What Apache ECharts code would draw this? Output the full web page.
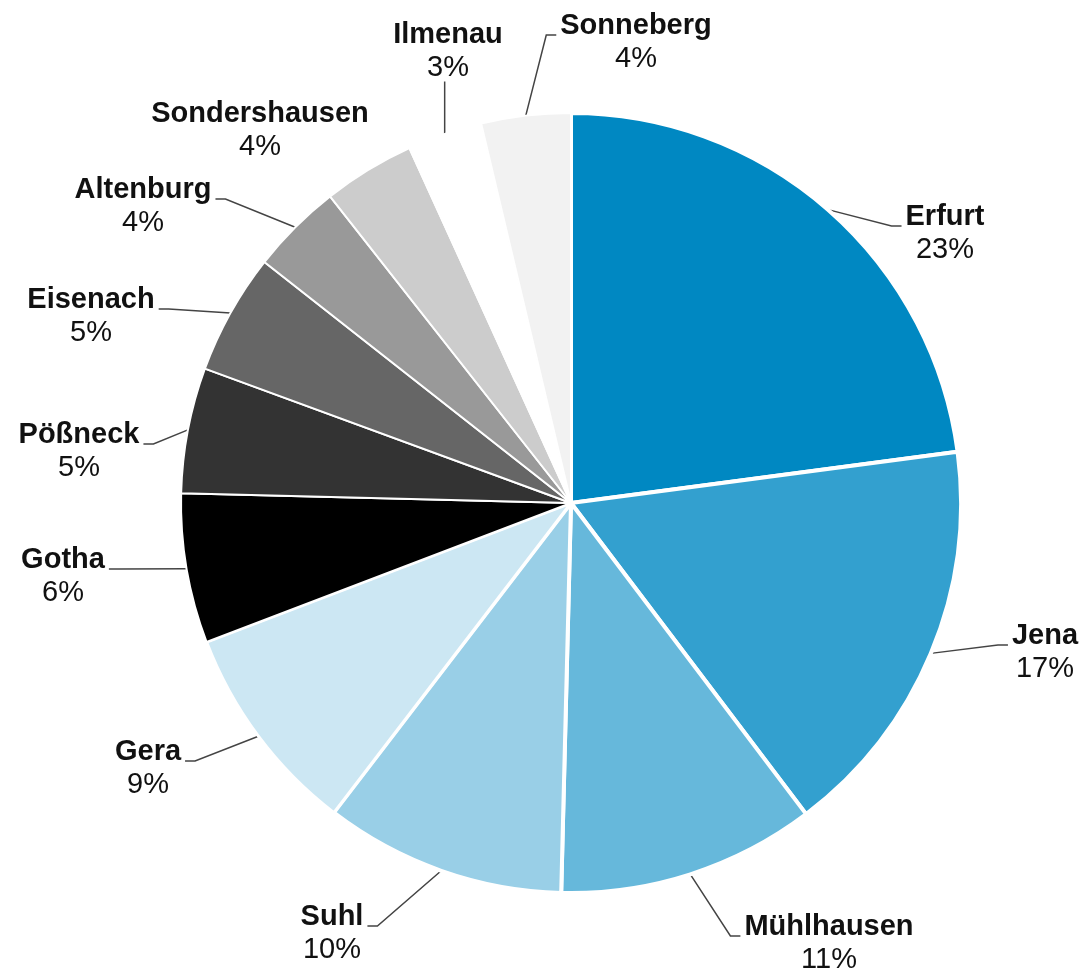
<!DOCTYPE html>
<html>
<head>
<meta charset="utf-8">
<script src="https://cdn.jsdelivr.net/npm/echarts@6/dist/echarts.min.js"></script>
<style>html,body{margin:0;padding:0;background:#fff}#c{width:1089px;height:971px}</style>
</head>
<body>
<div id="c"></div>
<script>
// data
const categories = ['Erfurt','Jena','Mühlhausen','Suhl','Gera','Gotha','Pößneck','Eisenach','Altenburg','Sondershausen','Ilmenau','Sonneberg'];
const values = [22.9,16.8,10.7,10.0,8.8,6.2,5.2,5.0,3.8,3.8,3.1,3.7];

// styles / layout (not data)
const colors = ['#0088c2','#33a0cf','#66b8db','#99cfe7','#cce7f3','#000000','#333333','#666666','#999999','#cccccc','#ffffff','#f2f2f2'];
const borderWidths = [4,4,4,4,3,2,2,2,2,2,2,2];
// label placement: [centre x, name-line centre y, leader style]
const labelPlacement = [
  [945,217,'elbow'],[1045,636,'elbow'],[829,927,'elbow'],[332,917,'elbow'],
  [148,752,'elbow'],[63,560,'elbow'],[79,435,'elbow'],[91,300,'elbow'],
  [143,190,'elbow'],[260,114,'none'],[448,35,'vertical'],[636,26,'elbow']
];
const LH = 33;

const chart = echarts.init(document.getElementById('c'), null, {renderer:'canvas'});
chart.setOption({
  backgroundColor:'#ffffff',
  animation:false,
  series:[{
    type:'pie',
    center:[571,503],
    radius:[0,390],
    startAngle:90,
    clockwise:true,
    avoidLabelOverlap:false,
    data:categories.map((n,i)=>({name:n,value:values[i],itemStyle:{color:colors[i],borderWidth:borderWidths[i]}})),
    itemStyle:{borderColor:'#ffffff',borderWidth:3},
    label:{
      show:true,
      position:'outside',
      color:'#111',
      formatter:p=>'{b|'+p.name+'}\n{p|'+Math.round(p.value)+'%}',
      rich:{
        b:{fontFamily:'Liberation Sans, Arial',fontWeight:'bold',fontSize:29,color:'#111',lineHeight:LH,align:'center'},
        p:{fontFamily:'Liberation Sans, Arial',fontSize:29,color:'#111',lineHeight:LH,align:'center'}
      }
    },
    labelLine:{show:true,length:20,length2:10,lineStyle:{color:'#444',width:1.5}},
    labelLayout:function(params){
      const lp = labelPlacement[params.dataIndex];
      const cx = lp[0], ny = lp[1], mode = lp[2];
      const w = params.labelRect.width;
      const anchor = params.labelLinePoints ? params.labelLinePoints[0] : null;
      const res = {x:cx, y:ny + LH/2, align:'center', verticalAlign:'middle', hideOverlap:false};
      if (anchor) {
        if (mode === 'none') {
          res.labelLinePoints = [anchor, anchor, anchor];
        } else if (mode === 'vertical') {
          const endY = ny + LH*1.5 - 3;
          res.labelLinePoints = [anchor, [anchor[0], endY], [anchor[0], endY]];
        } else {
          const right = cx > anchor[0];
          const ey = ny + 9;
          const ex = right ? cx - w/2 - 4 : cx + w/2 + 4;
          const bx = right ? ex - 10 : ex + 10;
          res.labelLinePoints = [anchor, [bx, ey], [ex, ey]];
        }
      }
      return res;
    }
  }]
});
</script>
</body>
</html>
